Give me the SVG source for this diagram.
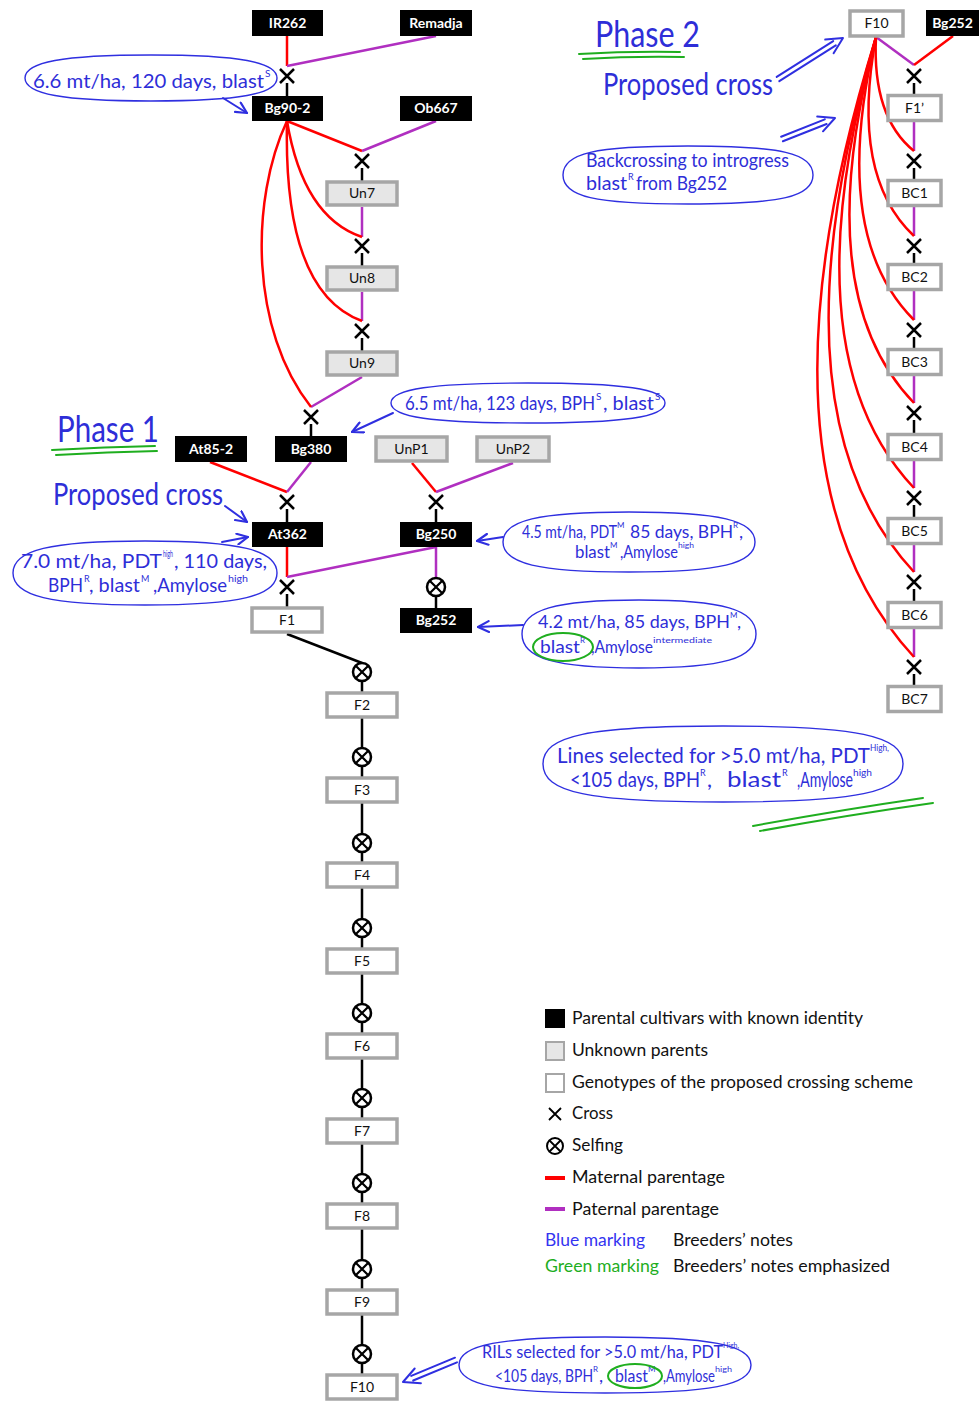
<svg xmlns="http://www.w3.org/2000/svg" width="979" height="1401" viewBox="0 0 979 1401">
<style>
.blk rect{fill:#000}
.blk text{fill:#fff;font-family:Lato,"Liberation Sans",sans-serif;font-weight:bold;font-size:14px;text-anchor:middle}
.gry rect{fill:#e6e6e6;stroke:#a6a6a6;stroke-width:3.5}
.wht rect{fill:#fff;stroke:#a6a6a6;stroke-width:3.5}
.gry text,.wht text{fill:#111;font-family:Lato,"Liberation Sans",sans-serif;font-size:14px;text-anchor:middle}
.m{stroke:#ff0000;stroke-width:2.5;fill:none}
.p{stroke:#b02fc0;stroke-width:2.5;fill:none}
.k{stroke:#000;stroke-width:2.5;fill:none}
.hw{font-family:Lato,"Liberation Sans",sans-serif;fill:#2e2ed8}
.bl{fill:none;stroke:#2f2fe0;stroke-width:1.4}
.ba{fill:none;stroke:#2f2fe0;stroke-width:2;stroke-linecap:round;stroke-linejoin:round}
.gr{fill:none;stroke:#1fae1f;stroke-width:2;stroke-linecap:round}
.lg{font-family:Lato,"Liberation Sans",sans-serif;font-size:17px;fill:#111}
</style>
<defs>
<g id="x"><path d="M-7,-7L7,7M7,-7L-7,7" stroke="#000" stroke-width="2.5"/></g>
<g id="s"><circle r="9" stroke="#000" stroke-width="2.5" fill="#fff"/><path d="M-6.3,-6.3L6.3,6.3M6.3,-6.3L-6.3,6.3" stroke="#000" stroke-width="2.2"/></g>
<marker id="ah" viewBox="0 0 12 12" refX="11" refY="6" markerWidth="13" markerHeight="13" markerUnits="userSpaceOnUse" orient="auto"><path d="M1,1L11,6L1,11" fill="none" stroke="#2f2fe0" stroke-width="2" stroke-linecap="round" stroke-linejoin="round"/></marker>
</defs>
<rect width="979" height="1401" fill="#fff"/>

<g id="connectors">
<path class="m" d="M287,36V66"/><path class="p" d="M436,36L287,66"/><path class="k" d="M287,83V96"/>
<path class="m" d="M287,121L362,151"/><path class="p" d="M436,121L362,151"/><path class="k" d="M362,168V181"/>
<path class="p" d="M362,207V237"/><path class="k" d="M362,253V266"/>
<path class="p" d="M362,292V321"/><path class="k" d="M362,338V351"/>
<path class="p" d="M362,377L311,407"/><path class="k" d="M311,424V436"/>
<path class="m" d="M287,121Q303,217 362,237"/>
<path class="m" d="M287,121Q283,292 362,321"/>
<path class="m" d="M287,121C250,200 250,330 311,407"/>
<path class="m" d="M210,462L287,492"/><path class="p" d="M311,462L287,492"/><path class="k" d="M287,509V522"/>
<path class="m" d="M412,463L436,492"/><path class="p" d="M513,463L436,492"/><path class="k" d="M436,509V522"/>
<path class="m" d="M287,547V577"/><path class="p" d="M436,547L287,577"/><path class="k" d="M287,594V608"/>
<path class="p" d="M436,547V578"/><path class="k" d="M436,596V608"/>
<path class="k" d="M287,634L362,663"/>
<path class="k" d="M362,681V693M362,717V748M362,766V778M362,802V834M362,852V863M362,887V919M362,937V949M362,973V1004M362,1022V1034M362,1058V1089M362,1107V1119M362,1143V1174M362,1192V1204M362,1228V1260M362,1278V1290M362,1314V1345M362,1363V1375"/>
<path class="p" d="M876,37L914,65"/><path class="m" d="M953,36L914,65"/><path class="k" d="M914,83V95"/>
<path class="p" d="M914,121V151M914,206V236M914,290V320M914,375V403M914,460V488M914,544V572M914,628V657"/>
<path class="k" d="M914,168V180M914,253V264M914,337V349M914,420V434M914,505V518M914,589V602M914,674V686"/>
<path class="m" d="M876,37Q872,117 914,151"/>
<path class="m" d="M876,37Q850,176 914,236"/>
<path class="m" d="M876,37Q829,235 914,320"/>
<path class="m" d="M876,37Q808,293 914,403"/>
<path class="m" d="M876,37Q787,353 914,488"/>
<path class="m" d="M876,37Q765,412 914,572"/>
<path class="m" d="M876,37Q742,471 914,657"/>
<use href="#x" x="287" y="76"/><use href="#x" x="362" y="161"/><use href="#x" x="362" y="246"/><use href="#x" x="362" y="331"/><use href="#x" x="311" y="417"/>
<use href="#x" x="287" y="502"/><use href="#x" x="436" y="502"/><use href="#x" x="287" y="587"/>
<use href="#s" x="436" y="587"/>
<use href="#s" x="362" y="672"/><use href="#s" x="362" y="757"/><use href="#s" x="362" y="843"/><use href="#s" x="362" y="928"/><use href="#s" x="362" y="1013"/><use href="#s" x="362" y="1098"/><use href="#s" x="362" y="1183"/><use href="#s" x="362" y="1269"/><use href="#s" x="362" y="1354"/>
<use href="#x" x="914" y="76"/><use href="#x" x="914" y="161"/><use href="#x" x="914" y="246"/><use href="#x" x="914" y="330"/><use href="#x" x="914" y="413"/><use href="#x" x="914" y="498"/><use href="#x" x="914" y="582"/><use href="#x" x="914" y="667"/>
</g>

<g id="n-IR262" class="blk"><rect x="252" y="10" width="71" height="26"/><text x="287.5" y="28">IR262</text></g>
<g id="n-Remadja" class="blk"><rect x="400" y="10" width="72" height="26"/><text x="436" y="28">Remadja</text></g>
<g id="n-Bg90-2" class="blk"><rect x="252" y="96" width="71" height="25"/><text x="287.5" y="113">Bg90-2</text></g>
<g id="n-Ob667" class="blk"><rect x="400" y="96" width="72" height="25"/><text x="436" y="113">Ob667</text></g>
<g id="n-Un7" class="gry"><rect x="327" y="182" width="70" height="23"/><text x="362" y="198">Un7</text></g>
<g id="n-Un8" class="gry"><rect x="327" y="267" width="70" height="23"/><text x="362" y="283">Un8</text></g>
<g id="n-Un9" class="gry"><rect x="327" y="352" width="70" height="23"/><text x="362" y="368">Un9</text></g>
<g id="n-At85-2" class="blk"><rect x="175" y="436" width="72" height="26"/><text x="211" y="454">At85-2</text></g>
<g id="n-Bg380" class="blk"><rect x="275" y="436" width="72" height="26"/><text x="311" y="454">Bg380</text></g>
<g id="n-UnP1" class="gry"><rect x="376" y="437" width="71" height="24"/><text x="411.5" y="454">UnP1</text></g>
<g id="n-UnP2" class="gry"><rect x="477" y="437" width="72" height="24"/><text x="513" y="454">UnP2</text></g>
<g id="n-At362" class="blk"><rect x="252" y="522" width="71" height="25"/><text x="287.5" y="539">At362</text></g>
<g id="n-Bg250" class="blk"><rect x="400" y="522" width="72" height="25"/><text x="436" y="539">Bg250</text></g>
<g id="n-F1" class="wht"><rect x="252" y="608" width="70" height="24"/><text x="287" y="625">F1</text></g>
<g id="n-Bg252a" class="blk"><rect x="400" y="608" width="72" height="25"/><text x="436" y="625">Bg252</text></g>
<g id="n-F2" class="wht"><rect x="327" y="693" width="70" height="24"/><text x="362" y="710">F2</text></g>
<g id="n-F3" class="wht"><rect x="327" y="778" width="70" height="24"/><text x="362" y="795">F3</text></g>
<g id="n-F4" class="wht"><rect x="327" y="863" width="70" height="24"/><text x="362" y="880">F4</text></g>
<g id="n-F5" class="wht"><rect x="327" y="949" width="70" height="24"/><text x="362" y="966">F5</text></g>
<g id="n-F6" class="wht"><rect x="327" y="1034" width="70" height="24"/><text x="362" y="1051">F6</text></g>
<g id="n-F7" class="wht"><rect x="327" y="1119" width="70" height="24"/><text x="362" y="1136">F7</text></g>
<g id="n-F8" class="wht"><rect x="327" y="1204" width="70" height="24"/><text x="362" y="1221">F8</text></g>
<g id="n-F9" class="wht"><rect x="327" y="1290" width="70" height="24"/><text x="362" y="1307">F9</text></g>
<g id="n-F10" class="wht"><rect x="327" y="1375" width="70" height="24"/><text x="362" y="1392">F10</text></g>
<g id="n-F10b" class="wht"><rect x="850" y="11" width="53" height="25"/><text x="876.5" y="28">F10</text></g>
<g id="n-Bg252b" class="blk"><rect x="926" y="10" width="53" height="26"/><text x="952.5" y="28">Bg252</text></g>
<g id="n-F1p" class="wht"><rect x="888" y="95.5" width="53" height="25"/><text x="914.5" y="113">F1’</text></g>
<g id="n-BC1" class="wht"><rect x="888" y="180.5" width="53" height="25"/><text x="914.5" y="198">BC1</text></g>
<g id="n-BC2" class="wht"><rect x="888" y="264.5" width="53" height="25"/><text x="914.5" y="282">BC2</text></g>
<g id="n-BC3" class="wht"><rect x="888" y="349.5" width="53" height="25"/><text x="914.5" y="367">BC3</text></g>
<g id="n-BC4" class="wht"><rect x="888" y="434.5" width="53" height="25"/><text x="914.5" y="452">BC4</text></g>
<g id="n-BC5" class="wht"><rect x="888" y="518.5" width="53" height="25"/><text x="914.5" y="536">BC5</text></g>
<g id="n-BC6" class="wht"><rect x="888" y="602.5" width="53" height="25"/><text x="914.5" y="620">BC6</text></g>
<g id="n-BC7" class="wht"><rect x="888" y="686.5" width="53" height="25"/><text x="914.5" y="704">BC7</text></g>

<g id="notes">
<path class="bl" d="M25,78C25,61.9 62.8,55 151,55C239.2,55 277,61.9 277,78C277,94.1 239.2,101 151,101C62.8,101 25,94.1 25,78Z"/>
<text class="hw" font-size="20"><tspan x="33" y="88" textLength="231" lengthAdjust="spacingAndGlyphs">6.6 mt/ha, 120 days, blast</tspan><tspan x="265" y="77" font-size="10">S</tspan></text>
<path class="ba" d="M223,98L247,113" marker-end="url(#ah)"/>

<text class="hw" x="595" y="47" font-size="36" textLength="105" lengthAdjust="spacingAndGlyphs">Phase 2</text>
<path class="gr" d="M579,54Q630,51 680,52M583,59Q633,56 684,57"/>
<text class="hw" x="603" y="95" font-size="30" textLength="170" lengthAdjust="spacingAndGlyphs">Proposed cross</text>
<path class="ba" d="M779.3,81.1L835.8,45.3M776.7,76.9L833.2,41.1M833.6,53.2L843,38L825.2,39.6"/>
<path class="ba" d="M782.9,141.3L826.6,124M781.1,136.7L824.8,119.4M823,131.3L835,118L817.2,116.5"/>
<path class="bl" d="M563,175C563,153.25 594.25,146 688,146C781.75,146 813,153.25 813,175C813,196.75 781.75,204 688,204C594.25,204 563,196.75 563,175Z"/>
<text class="hw" x="586" y="167" font-size="20" textLength="203" lengthAdjust="spacingAndGlyphs">Backcrossing to introgress</text>
<text class="hw" font-size="20"><tspan x="586" y="190" textLength="41" lengthAdjust="spacingAndGlyphs">blast</tspan><tspan x="628" y="180" font-size="9">R</tspan><tspan x="636" y="190" textLength="91" lengthAdjust="spacingAndGlyphs">from Bg252</tspan></text>

<path class="bl" d="M391,403C391,389 432.1,383 528,383C623.9,383 665,389 665,403C665,417 623.9,423 528,423C432.1,423 391,417 391,403Z"/>
<text class="hw" font-size="19"><tspan x="405" y="410" textLength="190" lengthAdjust="spacingAndGlyphs">6.5 mt/ha, 123 days, BPH</tspan><tspan x="596" y="400" font-size="10">S</tspan><tspan x="603" y="410" textLength="51" lengthAdjust="spacingAndGlyphs">, blast</tspan><tspan x="655" y="400" font-size="10">S</tspan></text>
<path class="ba" d="M393,413L352,432" marker-end="url(#ah)"/>

<text class="hw" x="57" y="442" font-size="36" textLength="102" lengthAdjust="spacingAndGlyphs">Phase 1</text>
<path class="gr" d="M52,450Q105,447 155,446M56,455Q108,452 157,451"/>
<text class="hw" x="53" y="505" font-size="30" textLength="170" lengthAdjust="spacingAndGlyphs">Proposed cross</text>
<path class="ba" d="M225,506L247,522" marker-end="url(#ah)"/>
<path class="ba" d="M222,542L248,537" marker-end="url(#ah)"/>
<path class="bl" d="M13,573C13,550 50,541 145,541C240,541 277,550 277,573C277,596 240,605 145,605C50,605 13,596 13,573Z"/>
<text class="hw" font-size="20"><tspan x="21" y="568" textLength="141" lengthAdjust="spacingAndGlyphs">7.0 mt/ha, PDT</tspan><tspan x="163" y="557" font-size="9" textLength="10" lengthAdjust="spacingAndGlyphs">high</tspan><tspan x="174" y="568" textLength="93" lengthAdjust="spacingAndGlyphs">, 110 days,</tspan></text>
<text class="hw" font-size="20"><tspan x="48" y="592" textLength="35" lengthAdjust="spacingAndGlyphs">BPH</tspan><tspan x="84" y="582" font-size="9">R</tspan><tspan x="89" y="592" textLength="51" lengthAdjust="spacingAndGlyphs">, blast</tspan><tspan x="141" y="582" font-size="9">M</tspan><tspan x="153" y="592" textLength="74" lengthAdjust="spacingAndGlyphs">,Amylose</tspan><tspan x="228" y="582" font-size="9" textLength="20" lengthAdjust="spacingAndGlyphs">high</tspan></text>

<path class="bl" d="M503,542C503,520.4 538.3,512 629,512C719.7,512 755,520.4 755,542C755,563.6 719.7,572 629,572C538.3,572 503,563.6 503,542Z"/>
<text class="hw" font-size="18"><tspan x="522" y="538" textLength="95" lengthAdjust="spacingAndGlyphs">4.5 mt/ha, PDT</tspan><tspan x="617" y="528" font-size="8">M</tspan><tspan x="630" y="538" textLength="103" lengthAdjust="spacingAndGlyphs">85 days, BPH</tspan><tspan x="733" y="528" font-size="8">R</tspan><tspan x="739" y="538">,</tspan></text>
<text class="hw" font-size="18"><tspan x="575" y="558" textLength="35" lengthAdjust="spacingAndGlyphs">blast</tspan><tspan x="610" y="548" font-size="8">M</tspan><tspan x="620" y="558" textLength="58" lengthAdjust="spacingAndGlyphs">,Amylose</tspan><tspan x="678" y="548" font-size="8" textLength="16" lengthAdjust="spacingAndGlyphs">high</tspan></text>
<path class="ba" d="M503,537L477,541" marker-end="url(#ah)"/>

<path class="bl" d="M522,634C522,609.5 554.8,600 639,600C723.2,600 756,609.5 756,634C756,658.5 723.2,668 639,668C554.8,668 522,658.5 522,634Z"/>
<text class="hw" font-size="18"><tspan x="538" y="628" textLength="192" lengthAdjust="spacingAndGlyphs">4.2 mt/ha, 85 days, BPH</tspan><tspan x="730" y="618" font-size="8">M</tspan><tspan x="737" y="628">,</tspan></text>
<text class="hw" font-size="18"><tspan x="540" y="653" textLength="40" lengthAdjust="spacingAndGlyphs">blast</tspan><tspan x="580" y="643" font-size="8">R</tspan><tspan x="591" y="653" textLength="62" lengthAdjust="spacingAndGlyphs">,Amylose</tspan><tspan x="653" y="643" font-size="8" textLength="59" lengthAdjust="spacingAndGlyphs">intermediate</tspan></text>
<ellipse class="gr" cx="563" cy="647" rx="30" ry="14" stroke-width="1.6"/>
<path class="ba" d="M523,625L478,627" marker-end="url(#ah)"/>

<path class="bl" d="M543,764C543,735.5 588,726 723,726C858,726 903,735.5 903,764C903,792.5 858,802 723,802C588,802 543,792.5 543,764Z"/>
<text class="hw" font-size="22"><tspan x="557" y="763" textLength="313" lengthAdjust="spacingAndGlyphs">Lines selected for &gt;5.0 mt/ha, PDT</tspan><tspan x="870" y="751" font-size="9" textLength="19" lengthAdjust="spacingAndGlyphs">High,</tspan></text>
<text class="hw" font-size="22"><tspan x="570" y="787" textLength="130" lengthAdjust="spacingAndGlyphs">&lt;105 days, BPH</tspan><tspan x="700" y="776" font-size="9">R</tspan><tspan x="707" y="787">,</tspan><tspan x="727" y="787" textLength="54" lengthAdjust="spacingAndGlyphs">blast</tspan><tspan x="782" y="776" font-size="9">R</tspan><tspan x="797" y="787" textLength="56" lengthAdjust="spacingAndGlyphs">,Amylose</tspan><tspan x="853" y="776" font-size="9" textLength="19" lengthAdjust="spacingAndGlyphs">high</tspan></text>
<path class="gr" d="M753,826Q840,810 923,798M760,831Q848,815 933,803"/>

<path class="bl" d="M459,1365C459,1344.8 499.9,1337 605,1337C710.1,1337 751,1344.8 751,1365C751,1385.2 710.1,1393 605,1393C499.9,1393 459,1385.2 459,1365Z"/>
<text class="hw" font-size="18"><tspan x="482" y="1358" textLength="241" lengthAdjust="spacingAndGlyphs">RILs selected for &gt;5.0 mt/ha, PDT</tspan><tspan x="723" y="1348" font-size="8" textLength="16" lengthAdjust="spacingAndGlyphs">High,</tspan></text>
<text class="hw" font-size="18"><tspan x="495" y="1382" textLength="98" lengthAdjust="spacingAndGlyphs">&lt;105 days, BPH</tspan><tspan x="593" y="1372" font-size="8">R</tspan><tspan x="599" y="1382">,</tspan><tspan x="615" y="1382" textLength="33" lengthAdjust="spacingAndGlyphs">blast</tspan><tspan x="648" y="1372" font-size="8">M</tspan><tspan x="663" y="1382" textLength="52" lengthAdjust="spacingAndGlyphs">,Amylose</tspan><tspan x="715" y="1372" font-size="8" textLength="17" lengthAdjust="spacingAndGlyphs">high</tspan></text>
<ellipse class="gr" cx="635" cy="1376" rx="27" ry="12" stroke-width="1.6"/>
<path class="ba" d="M457,1362.3L413.2,1380.5M455,1357.7L411.2,1375.9M420.9,1383.3L403,1382L414.7,1368.5"/>
</g>

<g id="legend">
<rect x="545" y="1009" width="20" height="19" fill="#000"/>
<text class="lg" x="572" y="1024" textLength="291" lengthAdjust="spacingAndGlyphs">Parental cultivars with known identity</text>
<rect x="546" y="1042" width="18" height="18" fill="#e6e6e6" stroke="#a6a6a6" stroke-width="2"/>
<text class="lg" x="572" y="1056" textLength="136" lengthAdjust="spacingAndGlyphs">Unknown parents</text>
<rect x="546" y="1074" width="18" height="18" fill="#fff" stroke="#a6a6a6" stroke-width="2"/>
<text class="lg" x="572" y="1088" textLength="341" lengthAdjust="spacingAndGlyphs">Genotypes of the proposed crossing scheme</text>
<path d="M549,1108L561,1120M561,1108L549,1120" stroke="#000" stroke-width="1.8"/>
<text class="lg" x="572" y="1119" textLength="41" lengthAdjust="spacingAndGlyphs">Cross</text>
<circle cx="555" cy="1146" r="8" fill="none" stroke="#000" stroke-width="2"/>
<path d="M549.5,1140.5L560.5,1151.5M560.5,1140.5L549.5,1151.5" stroke="#000" stroke-width="1.8"/>
<text class="lg" x="572" y="1151" textLength="51" lengthAdjust="spacingAndGlyphs">Selfing</text>
<path d="M545,1178H565" stroke="#ff0000" stroke-width="4"/>
<text class="lg" x="572" y="1183" textLength="153" lengthAdjust="spacingAndGlyphs">Maternal parentage</text>
<path d="M545,1209H565" stroke="#b02fc0" stroke-width="4"/>
<text class="lg" x="572" y="1215" textLength="147" lengthAdjust="spacingAndGlyphs">Paternal parentage</text>
<text class="lg" x="545" y="1246" style="fill:#3434f0" textLength="100" lengthAdjust="spacingAndGlyphs">Blue marking</text>
<text class="lg" x="673" y="1246" textLength="120" lengthAdjust="spacingAndGlyphs">Breeders’ notes</text>
<text class="lg" x="545" y="1272" style="fill:#1fae1f" textLength="114" lengthAdjust="spacingAndGlyphs">Green marking</text>
<text class="lg" x="673" y="1272" textLength="217" lengthAdjust="spacingAndGlyphs">Breeders’ notes emphasized</text>
</g>
</svg>
